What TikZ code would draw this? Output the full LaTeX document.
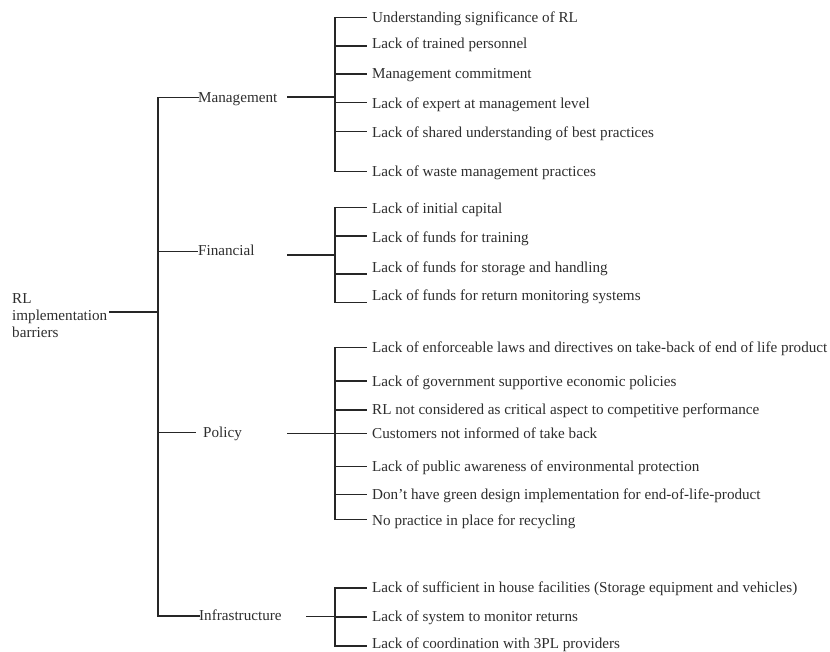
\documentclass[tikz,border=0pt]{standalone}
\usepackage{fontspec}
\setmainfont{Liberation Serif}
\definecolor{ink}{RGB}{38,38,38}
\definecolor{txt}{RGB}{45,45,45}
\begin{document}
\begin{tikzpicture}[x=1pt,y=-1pt,
  lbl/.style={anchor=west,inner sep=0pt,text=txt,font=\fontsize{15.15}{17}\selectfont,text height=0.7em,text depth=0.22em,yshift=-2.5pt},
  wire/.style={draw=ink,line width=1.1pt,line cap=rect}]
\useasboundingbox (0,0) rectangle (830,652);
% root
\node[lbl,align=left,text height=,text depth=,yshift=1.5pt] (root) at (12,315) {RL\\implementation\\barriers};
\coordinate (rootend) at (110,312);
\coordinate (tTop) at (158,97.7);
\coordinate (tRoot) at (158,312);
\coordinate (tBot) at (158,616);
\draw[wire] (rootend) -- (tRoot);
\draw[wire] (tTop) -- (tBot);
% categories
\node[lbl] (man) at (198,98) {Management};
\node[lbl] (fin) at (198,251) {Financial};
\node[lbl] (pol) at (203,433) {Policy};
\node[lbl] (inf) at (199,616) {Infrastructure};
\coordinate (tMan) at (158,97.7);
\coordinate (tFin) at (158,251.5);
\coordinate (tPol) at (158,432.7);
\coordinate (tInf) at (158,616);
\draw[wire] (tMan) -- (man.west|-tMan);
\draw[wire] (tFin) -- ([xshift=-1pt]fin.west|-tFin);
\draw[wire] (tPol) -- ([xshift=-8pt]pol.west|-tPol);
\draw[wire] (tInf) -- (inf.west|-tInf);
% right stubs
\coordinate (sMan) at (288,97);
\coordinate (sFin) at (288,255);
\coordinate (sPol) at (288,433.3);
\coordinate (sInf) at (307,616.5);
\coordinate (bMan) at (335,97);
\coordinate (bFin) at (335,255);
\coordinate (bPol) at (335,433.3);
\coordinate (bInf) at (335,616.5);
\draw[wire] (sMan) -- (bMan);
\draw[wire] (sFin) -- (bFin);
\draw[wire] (sPol) -- (bPol);
\draw[wire] (sInf) -- (bInf);
% Management children
\node[lbl] (m1) at (372,17.3) {Understanding significance of RL};
\node[lbl] (m2) at (372,43.5) {Lack of trained personnel};
\node[lbl] (m3) at (372,74) {Management commitment};
\node[lbl] (m4) at (372,103.5) {Lack of expert at management level};
\node[lbl] (m5) at (372,133) {Lack of shared understanding of best practices};
\node[lbl] (m6) at (372,171.7) {Lack of waste management practices};
\draw[wire] (366,17.3) -- (335,17.3) -- (335,171.7) -- (366,171.7);
\draw[wire] (335,46) -- (366,46);
\draw[wire] (335,74) -- (366,74);
\draw[wire] (335,102.7) -- (366,102.7);
\draw[wire] (335,131.7) -- (366,131.7);
% Financial children
\node[lbl] (f1) at (372,209) {Lack of initial capital};
\node[lbl] (f2) at (372,238) {Lack of funds for training};
\node[lbl] (f3) at (372,267.3) {Lack of funds for storage and handling};
\node[lbl] (f4) at (372,295.3) {Lack of funds for return monitoring systems};
\draw[wire] (366,207.3) -- (335,207.3) -- (335,302.7) -- (366,302.7);
\draw[wire] (335,236) -- (366,236);
\draw[wire] (335,274) -- (366,274);
% Policy children
\node[lbl] (p1) at (372,348) {Lack of enforceable laws and directives on take-back of end of life product};
\node[lbl] (p2) at (372,381.5) {Lack of government supportive economic policies};
\node[lbl] (p3) at (372,410) {RL not considered as critical aspect to competitive performance};
\node[lbl] (p4) at (372,434) {Customers not informed of take back};
\node[lbl] (p5) at (372,466.7) {Lack of public awareness of environmental protection};
\node[lbl] (p6) at (372,495) {Don’t have green design implementation for end-of-life-product};
\node[lbl] (p7) at (372,520.5) {No practice in place for recycling};
\draw[wire] (366,347.3) -- (335,347.3) -- (335,519.3) -- (366,519.3);
\draw[wire] (335,381) -- (366,381);
\draw[wire] (335,410) -- (366,410);
\draw[wire] (335,433.3) -- (366,433.3);
\draw[wire] (335,466.7) -- (366,466.7);
\draw[wire] (335,494.3) -- (366,494.3);
% Infrastructure children
\node[lbl] (i1) at (372,588) {Lack of sufficient in house facilities (Storage equipment and vehicles)};
\node[lbl] (i2) at (372,617) {Lack of system to monitor returns};
\node[lbl] (i3) at (372,643.5) {Lack of coordination with 3PL providers};
\draw[wire] (366,588) -- (335,588) -- (335,646) -- (366,646);
\draw[wire] (335,617) -- (366,617);
\end{tikzpicture}
\end{document}
